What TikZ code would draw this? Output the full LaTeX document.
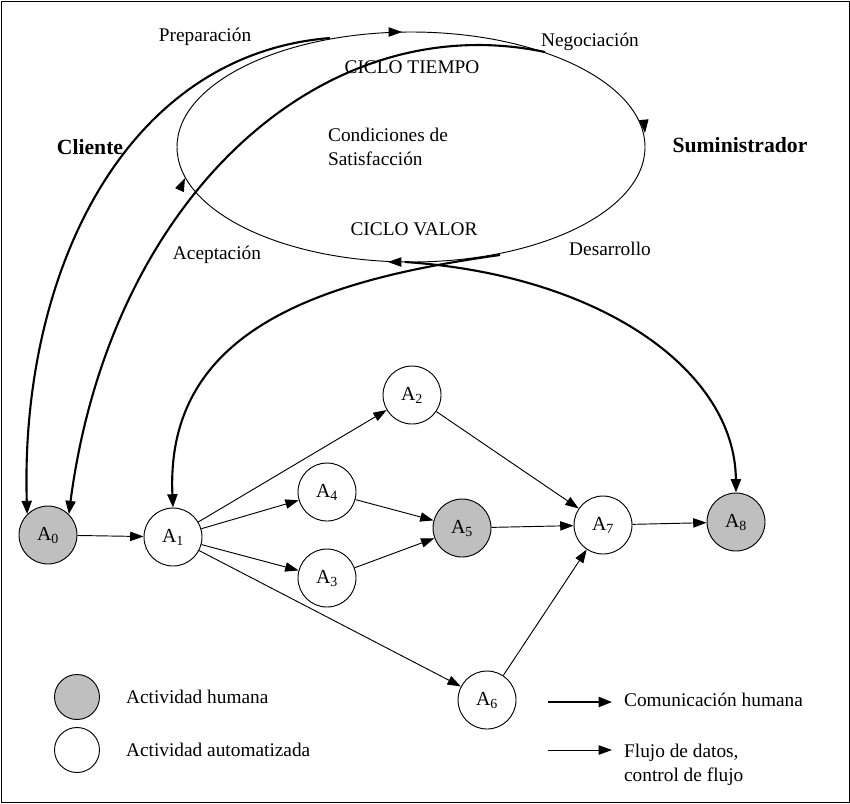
\documentclass[tikz,border=0pt]{standalone}
\usepackage{fontspec}
\setmainfont{Liberation Serif}
\usetikzlibrary{arrows.meta,calc}
\tikzset{
  act/.style={circle,draw,thick,minimum size=1.74cm,inner sep=0pt,font=\fontsize{17}{20}\selectfont},
  hum/.style={act,fill=black!25},
  flow/.style={-{Triangle[length=4mm,width=2.8mm]},thick},
  comm/.style={-{Triangle[length=4mm,width=3mm]},line width=1.8pt},
  lbl/.style={font=\fontsize{16.5}{20}\selectfont,align=left},
}
\begin{document}
\begin{tikzpicture}[x=0.03cm,y=-0.03cm]
\useasboundingbox (0,0) rectangle (850,803);
\draw[thick] (1,1) rectangle (849,802);
% cycle
\draw[thick] (411,147) ellipse [x radius=234,y radius=115];
\coordinate (t) at (402,32);
\coordinate (r) at (645,133);
\coordinate (b) at (388,262);
\coordinate (l) at (185,178);
\draw[flow] ($(t)+(-10,0)$) -- (t);
\draw[flow] (644,122) -- (r);
\draw[flow] (398,262) -- (b);
\draw[flow] (180,189) -- (l);
\node[lbl] (prep) at (205,37) {Preparación};
\node[lbl] (neg) at (590,42) {Negociación};
\node[lbl] (tiempo) at (412,67) {CICLO TIEMPO};
\node[lbl] (cond) at (388,147) {Condiciones de\\Satisfacción};
\node[lbl] (valor) at (414,229) {CICLO VALOR};
\node[lbl] (acep) at (217,255) {Aceptación};
\node[lbl] (des) at (610,249) {Desarrollo};
\node[lbl,font=\fontsize{18.5}{21}\selectfont\bfseries] (cli) at (90,147) {Cliente};
\node[lbl,font=\fontsize{18.5}{21}\selectfont\bfseries] (sum) at (740,145) {Suministrador};
% activities
\node[hum] (a0) at (48,535) {A\textsubscript{0}};
\node[act] (a1) at (173,537) {A\textsubscript{1}};
\node[act] (a2) at (412,395) {A\textsubscript{2}};
\node[act] (a4) at (327,492) {A\textsubscript{4}};
\node[act] (a3) at (327,578) {A\textsubscript{3}};
\node[hum] (a5) at (462,528) {A\textsubscript{5}};
\node[act] (a6) at (487,700) {A\textsubscript{6}};
\node[act] (a7) at (603,525) {A\textsubscript{7}};
\node[hum] (a8) at (736,522) {A\textsubscript{8}};
\draw[flow] (a0) -- (a1);
\draw[flow] (a1) -- (a2);
\draw[flow] (a1) -- (a4);
\draw[flow] (a1) -- (a3);
\draw[flow] (a1) -- (a6);
\draw[flow] (a4) -- (a5);
\draw[flow] (a3) -- (a5);
\draw[flow] (a2) -- (a7);
\draw[flow] (a5) -- (a7);
\draw[flow] (a6) -- (a7);
\draw[flow] (a7) -- (a8);
% communication
\coordinate (c1) at (330,38);
\coordinate (c2) at (545,52);
\coordinate (c3) at (500,255);
\coordinate (c4) at (405,262);
\draw[comm] (c1) .. controls (120,55) and (20,280) .. (a0.north west);
\draw[comm] (c2) .. controls (320,5) and (110,200) .. (a0.north east);
\draw[comm] (c3) .. controls (320,280) and (165,330) .. (a1.north);
\draw[comm] (c4) .. controls (600,275) and (735,370) .. (a8.north);
% legend
\node[hum,minimum size=1.35cm] (lh) at (77,697) {};
\node[act,minimum size=1.35cm] (la) at (77,750) {};
\node[lbl,anchor=west] (lht) at (122,697) {Actividad humana};
\node[lbl,anchor=west] (lat) at (122,750) {Actividad automatizada};
\coordinate (lc0) at (548,702);
\coordinate (lc1) at (612,702);
\coordinate (lf0) at (548,750);
\coordinate (lf1) at (612,750);
\draw[comm] (lc0) -- (lc1);
\draw[flow] (lf0) -- (lf1);
\node[lbl,anchor=west] (lct) at (620,700) {Comunicación humana};
\node[lbl,anchor=north west] (lft) at (620,740) {Flujo de datos,\\control de flujo};
\end{tikzpicture}
\end{document}
